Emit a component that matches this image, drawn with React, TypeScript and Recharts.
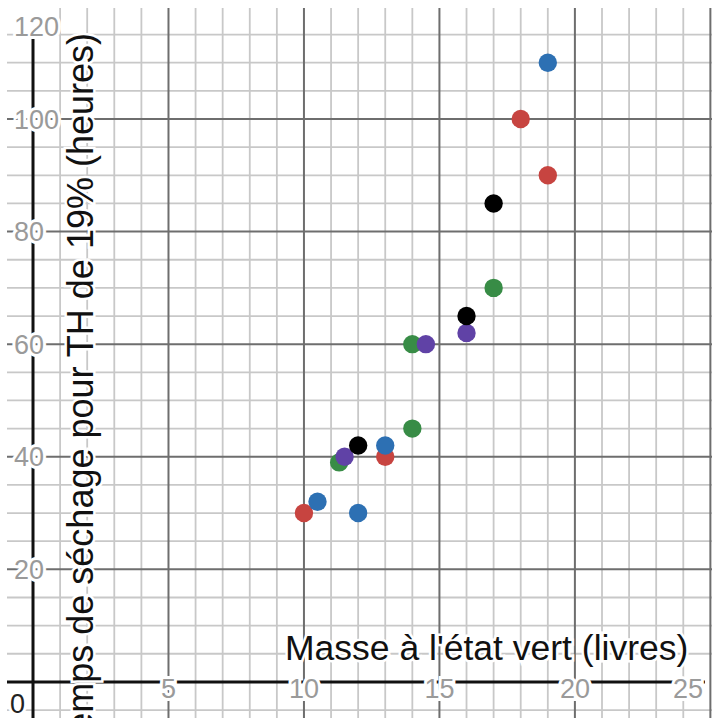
import React from "react";
import { ScatterChart, Scatter, XAxis, YAxis, ReferenceLine } from "recharts";

const FONT = "'Liberation Sans', Arial, Helvetica, sans-serif";

// points (x = livres, y = heures)
const redPoints = [
  { x: 10, y: 30 },
  { x: 13, y: 40 },
  { x: 18, y: 100 },
  { x: 19, y: 90 },
];
const bluePoints = [
  { x: 10.5, y: 32 },
  { x: 12, y: 30 },
  { x: 13, y: 42 },
  { x: 19, y: 110 },
];
const greenPoints = [
  { x: 11.3, y: 39 },
  { x: 14, y: 45 },
  { x: 14, y: 60 },
  { x: 17, y: 70 },
];
const purplePoints = [
  { x: 11.5, y: 40 },
  { x: 14.5, y: 60 },
  { x: 16, y: 62 },
];
const blackPoints = [
  { x: 12, y: 42 },
  { x: 16, y: 65 },
  { x: 17, y: 85 },
];

// grid and tick values
const xMinorLines = [1, 2, 3, 4, 6, 7, 8, 9, 11, 12, 13, 14, 16, 17, 18, 19, 21, 22, 23, 24];
const xMajorLines = [5, 10, 15, 20, 25];
const yMinorLines = [-5, 5, 10, 15, 25, 30, 35, 45, 50, 55, 65, 70, 75, 85, 90, 95, 105, 110, 115];
const yMajorLines = [20, 40, 60, 80, 100];
const xTickLabels = [5, 10, 15, 20, 25];
const yTickLabels = [20, 40, 60, 80, 100, 120];

const xLabelPoints = xTickLabels.map((v) => ({ x: v, y: 0, label: String(v) }));
const yLabelPoints = yTickLabels.map((v) => ({ x: 0, y: v, label: String(v) }));
const originPoint = [{ x: 0, y: 0, label: "0" }];

const X_TITLE = "Masse à l'état vert (livres)";
const Y_TITLE = "Temps de séchage pour TH de 19% (heures)";

const X_DOMAIN: [number, number] = [-0.96, 25.06];
const Y_DOMAIN: [number, number] = [-6.41, 119.72];

const SERIES = [
  { name: "rouge", data: redPoints, color: "#c74440" },
  { name: "bleu", data: bluePoints, color: "#2d70b3" },
  { name: "vert", data: greenPoints, color: "#388c46" },
  { name: "violet", data: purplePoints, color: "#6042a6" },
  { name: "noir", data: blackPoints, color: "#000000" },
];

const labelStyle = {
  fontFamily: FONT,
  fontSize: 27,
  fill: "#9a9a9a",
  stroke: "#ffffff",
  strokeWidth: 6,
  paintOrder: "stroke",
} as React.CSSProperties;

const XTick = (props: any) => {
  const { cx, cy, payload } = props;
  return (
    <text x={Math.min(cx, 688)} y={cy + 16} textAnchor="middle" style={labelStyle}>
      {payload.label}
    </text>
  );
};

const YTick = (props: any) => {
  const { cx, cy, payload } = props;
  return (
    <text x={cx - 19} y={Math.max(cy, 26) + 9.7} textAnchor="start" style={labelStyle}>
      {payload.label}
    </text>
  );
};

const OriginTick = (props: any) => {
  const { cx, cy, payload } = props;
  return (
    <text x={cx - 8} y={cy + 31} textAnchor="end" style={{ ...labelStyle, fill: "#222" }}>
      {payload.label}
    </text>
  );
};

const titleStyle = {
  fontFamily: FONT,
  fill: "#111",
  stroke: "#ffffff",
  strokeWidth: 5,
  paintOrder: "stroke",
} as React.CSSProperties;

export default function App() {
  return (
    <div style={{ position: "absolute", left: 0, top: 0, width: 712, height: 718, background: "#fff" }}>
      <ScatterChart width={712} height={718} margin={{ top: 8, right: 0, bottom: 0, left: 7 }}>
        <XAxis type="number" dataKey="x" domain={X_DOMAIN} allowDataOverflow hide />
        <YAxis type="number" dataKey="y" domain={Y_DOMAIN} allowDataOverflow hide />

        {xMinorLines.map((v) => (
          <ReferenceLine key={"xm" + v} x={v} stroke="#c8c8c8" strokeWidth={1.8} ifOverflow="hidden" />
        ))}
        {yMinorLines.map((v) => (
          <ReferenceLine key={"ym" + v} y={v} stroke="#c8c8c8" strokeWidth={1.8} ifOverflow="hidden" />
        ))}
        {xMajorLines.map((v) => (
          <ReferenceLine key={"xM" + v} x={v} stroke="#6e6e6e" strokeWidth={2} ifOverflow="hidden" />
        ))}
        {yMajorLines.map((v) => (
          <ReferenceLine key={"yM" + v} y={v} stroke="#6e6e6e" strokeWidth={2} ifOverflow="hidden" />
        ))}

        {/* axes */}
        <ReferenceLine
          segment={[{ x: -0.96, y: 0 }, { x: 24.8, y: 0 }]}
          stroke="#111"
          strokeWidth={3}
          ifOverflow="hidden"
        />
        <ReferenceLine
          segment={[{ x: 0, y: -6.4 }, { x: 0, y: 115.7 }]}
          stroke="#111"
          strokeWidth={3}
          ifOverflow="hidden"
        />

        <Scatter name="xTicks" data={xLabelPoints} shape={XTick} isAnimationActive={false} />
        <Scatter name="yTicks" data={yLabelPoints} shape={YTick} isAnimationActive={false} />
        <Scatter name="origin" data={originPoint} shape={OriginTick} isAnimationActive={false} />

        {SERIES.map((s) => (
          <Scatter
            key={s.name}
            name={s.name}
            data={s.data}
            isAnimationActive={false}
            shape={(p: any) => <circle cx={p.cx} cy={p.cy} r={9.2} fill={s.color} />}
          />
        ))}
      </ScatterChart>

      {/* axis titles sit on top of the grid */}
      <svg
        width={712}
        height={718}
        style={{ position: "absolute", left: 0, top: 0, pointerEvents: "none" }}
      >
        <text x={285} y={660} fontSize={35.5} style={titleStyle}>
          {X_TITLE}
        </text>
        <text transform="translate(93,33) rotate(-90)" textAnchor="end" fontSize={36} style={titleStyle}>
          {Y_TITLE}
        </text>
      </svg>
    </div>
  );
}
